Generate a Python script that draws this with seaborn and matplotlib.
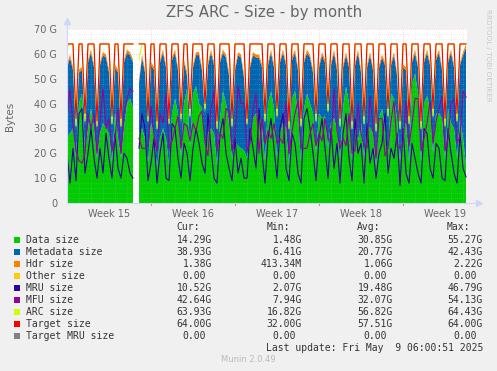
import numpy as np
import pandas as pd
import matplotlib
matplotlib.use('Agg')
import matplotlib.pyplot as plt
import seaborn as sns
from matplotlib.patches import Rectangle

nan = np.nan

# one sample every 6 hours, starting Monday of week 15 (values in GB)
days = np.arange(134) * 0.25

target_size = [
    64, 64, 64, 34,  64, 64, 36, 64,  64, 64, 33, 64,  64, 64, 64, 35,
    64, 64, 34, 64,  64, 64, 64, nan, 64, 64, 64, 35,  64, 64, 33, 64,
    64, 64, 34, 64,  64, 64, 36, 64,  64, 38, 64, 64,  64, 64, 40, 64,
    64, 64, 33, 64,  64, 64, 64, 34,  64, 64, 64, 64,  34, 64, 64, 64,
    64, 64, 36, 64,  64, 64, 38, 64,  64, 64, 33, 64,  64, 64, 34, 64,
    64, 64, 64, 36,  64, 64, 64, 40,  64, 64, 64, 34,  64, 64, 64, 33,
    64, 64, 64, 35,  64, 64, 64, 32,  64, 64, 64, 38,  64, 64, 64, 33,
    64, 64, 35, 64,  64, 64, 33, 64,  64, 64, 38, 64,  64, 64, 34, 64,
    64, 64, 36, 64,  64, 64,
]

arc_size = [
    62.5, 63.9, 63.9, 31,  63.8, 63.9, 33, 63.6,  63.9, 63.8, 31, 63.7,  63.9, 63.9, 63.8, 32,
    63.9, 63.7, 31, 63.9,  63.9, 63.9, 63.8, nan,  58, 63.9, 63.9, 33,  63.9, 63.8, 30, 63.9,
    63.9, 63.9, 32, 63.8,  64.1, 63.9, 34, 63.9,  63.9, 35, 63.9, 63.9,  63.8, 63.9, 38, 63.9,
    63.9, 63.9, 30, 63.9,  64.2, 63.9, 63.9, 31,  63.9, 63.8, 63.9, 63.9,  32, 63.9, 63.9, 63.9,
    63.9, 63.9, 33, 63.9,  63.9, 63.8, 35, 63.9,  63.9, 63.9, 30, 63.9,  63.9, 63.9, 31, 63.9,
    63.9, 63.9, 63.9, 33,  63.9, 63.9, 63.9, 37,  63.9, 64.1, 63.9, 31,  63.9, 63.9, 63.9, 30,
    63.9, 63.9, 63.9, 32,  63.9, 63.9, 63.9, 29,  63.9, 63.9, 63.9, 35,  63.9, 63.9, 63.9, 30,
    63.9, 63.9, 32, 63.9,  63.9, 63.9, 30, 63.9,  63.9, 63.9, 35, 63.9,  63.9, 63.9, 31, 63.9,
    63.9, 63.9, 33, 63.9,  63.9, 63.9,
]

data_size = [
    26, 28, 30, 18,  40, 44, 20, 30,  38, 30, 18, 28,  32, 30, 28, 16,
    36, 26, 18, 30,  40, 42, 38, nan, 28, 30, 26, 16,  32, 28, 14, 26,
    30, 26, 15, 36,  42, 36, 18, 40,  46, 22, 44, 47,  40, 38, 22, 28,
    30, 28, 15, 34,  45, 40, 32, 18,  24, 23, 22, 21,  18, 26, 34, 36,
    36, 30, 17, 40,  45, 38, 18, 28,  32, 30, 15, 42,  45, 36, 16, 38,
    44, 40, 36, 20,  36, 34, 35, 22,  32, 34, 30, 18,  38, 47, 40, 17,
    30, 25, 32, 18,  32, 30, 28, 15,  34, 38, 30, 20,  44, 42, 34, 17,
    30, 32, 16, 48,  52, 44, 16, 40,  43, 38, 20, 36,  36, 34, 17, 38,
    32, 30, 18, 34,  26, 15,
]

metadata_size = [
    28.5, 30.5, 23.5, 12,  12.5, 9.5, 12, 26.5,  22.5, 24.5, 12, 27.5,  27.5, 28.5, 24.5, 15,
    18.5, 26.5, 12, 26.5,  20.5, 17.5, 18.5, nan,  20.5, 28.5, 26.5, 16,  23.5, 25.5, 15, 30.5,
    30.5, 28.5, 16, 21.5,  18.5, 17.5, 14, 16.5,  5.5, 12, 10.5, 12.5,  19.5, 15.5, 14, 27.5,
    30.5, 27.5, 14, 22.5,  15.5, 18.5, 19.5, 12,  29.5, 36.5, 36.5, 29.5,  13, 28.5, 25.5, 22.5,
    22.5, 24.5, 15, 15.5,  15.5, 16.5, 16, 28.5,  28.5, 25.5, 14, 15.5,  15.5, 17.5, 14, 18.5,
    16.5, 18.5, 16.5, 12,  18.5, 25.5, 21.5, 14,  23.5, 26.5, 23.5, 12,  16.5, 12.5, 14.5, 12,
    25.5, 35.5, 20.5, 13,  22.5, 29.5, 25.5, 13,  20.5, 20.5, 25.5, 14,  11.5, 17.5, 17.5, 12,
    24.5, 21.5, 15, 8.5,  8.5, 10.5, 13, 16.5,  17.5, 17.5, 14, 21.5,  24.5, 19.5, 13, 18.5,
    28.5, 24.5, 14, 21.5,  33.5, 47.5,
]

hdr_size = [
    1.2, 1.2, 1.2, 0.7,  1.2, 1.2, 0.7, 1.2,  1.2, 1.2, 0.7, 1.2,  1.2, 1.2, 1.2, 0.7,
    1.2, 1.2, 0.7, 1.2,  1.2, 1.2, 1.2, nan,  1.0, 1.2, 1.2, 0.7,  1.2, 1.2, 0.7, 1.2,
    1.2, 1.2, 0.7, 1.2,  1.2, 1.2, 0.7, 1.2,  1.2, 0.7, 1.2, 1.2,  1.2, 1.2, 0.7, 1.2,
    1.2, 1.2, 0.7, 1.2,  1.2, 1.2, 1.2, 0.7,  1.2, 1.2, 1.2, 1.2,  0.7, 1.2, 1.2, 1.2,
    1.2, 1.2, 0.7, 1.2,  1.2, 1.2, 0.7, 1.2,  1.2, 1.2, 0.7, 1.2,  1.2, 1.2, 0.7, 1.2,
    1.2, 1.2, 1.2, 0.7,  1.2, 1.2, 1.2, 0.7,  1.2, 1.2, 1.2, 0.7,  1.2, 1.2, 1.2, 0.7,
    1.2, 1.2, 1.2, 0.7,  1.2, 1.2, 1.2, 0.7,  1.2, 1.2, 1.2, 0.7,  1.2, 1.2, 1.2, 0.7,
    1.2, 1.2, 0.7, 1.2,  1.2, 1.2, 0.7, 1.2,  1.2, 1.2, 0.7, 1.2,  1.2, 1.2, 0.7, 1.2,
    1.2, 1.2, 0.7, 1.2,  1.2, 1.4,
]

mru_size = [
    20, 8, 22, 9,  36, 38, 12, 20,  30, 18, 10, 22,  12, 28, 18, 10,
    28, 14, 10, 20,  18, 12, 10, nan,  22, 36, 30, 9,  16, 26, 8, 20,
    28, 10, 9, 32,  30, 18, 10, 24,  20, 9, 22, 30,  24, 16, 12, 36,
    22, 10, 8, 28,  34, 20, 14, 9,  26, 12, 18, 10,  10, 30, 22, 14,
    38, 20, 8, 26,  34, 22, 10, 30,  36, 14, 9, 28,  24, 12, 8, 34,
    38, 30, 20, 9,  26, 34, 22, 10,  30, 14, 24, 8,  28, 36, 18, 9,
    34, 20, 24, 8,  32, 16, 22, 10,  20, 24, 36, 12,  22, 18, 28, 7,
    30, 12, 8, 24,  18, 12, 8, 30,  28, 14, 10, 24,  22, 10, 9, 30,
    20, 12, 8, 28,  14, 10.5,
]

mfu_size = [
    34, 46, 31, 21,  17, 16, 20, 36,  30, 36, 20, 33,  46, 30, 34, 21,
    26, 38, 20, 36,  42, 46, 45, nan,  26, 22, 22, 23,  39, 27, 21, 36,
    32, 44, 22, 25,  30, 35, 22, 32,  31, 25, 32, 29,  35, 37, 24, 19,
    38, 45, 21, 28,  26, 38, 37, 21,  27, 47, 40, 40,  21, 24, 37, 44,
    20, 34, 24, 29,  26, 32, 24, 26,  24, 41, 20, 29,  36, 41, 22, 22,
    22, 28, 32, 23,  28, 25, 34, 26,  25, 46, 29, 22,  26, 23, 36, 20,
    21, 40, 28, 23,  22, 43, 31, 18,  34, 34, 19, 22,  33, 41, 23, 22,
    24, 41, 23, 32,  42, 42, 21, 26,  32, 41, 24, 33,  38, 43, 21, 26,
    40, 42, 24, 27,  45, 42.6,
]

legend_names = ['Data size', 'Metadata size', 'Hdr size', 'Other size', 'MRU size',
                'MFU size', 'ARC size', 'Target size', 'Target MRU size']
legend_colors = ['#00CC00', '#0066B3', '#FF8000', '#FFCC00', '#330099',
                 '#990099', '#CCFF00', '#FF0000', '#808080']
cur_vals = ['14.29G', '38.93G', '1.38G', '0.00 ', '10.52G', '42.64G', '63.93G', '64.00G', '0.00 ']
min_vals = ['1.48G', '6.41G', '413.34M', '0.00 ', '2.07G', '7.94G', '16.82G', '32.00G', '0.00 ']
avg_vals = ['30.85G', '20.77G', '1.06G', '0.00 ', '19.48G', '32.07G', '56.82G', '57.51G', '0.00 ']
max_vals = ['55.27G', '42.43G', '2.22G', '0.00 ', '46.79G', '54.13G', '64.43G', '64.00G', '0.00 ']

week_pos = [3.5, 10.5, 17.5, 24.5, 31.5]
week_labels = ['Week 15', 'Week 16', 'Week 17', 'Week 18', 'Week 19']
y_ticks = [0, 10, 20, 30, 40, 50, 60, 70]
y_labels = ['0', '10 G', '20 G', '30 G', '40 G', '50 G', '60 G', '70 G']

W, H = 497, 371
FONT_C = '#666666'
AXIS_C = '#CFD6F8'

df = pd.DataFrame({'day': days, 'data': data_size, 'meta': metadata_size, 'hdr': hdr_size,
                   'mru': mru_size, 'mfu': mfu_size, 'arc': arc_size, 'target': target_size})
df['seg'] = (df['day'] > 5.6).astype(int)

fig = plt.figure(figsize=(W / 100, H / 100), dpi=100, facecolor='#F0F0F0')
ax = fig.add_axes([67 / W, 1 - 203 / H, 400 / W, 174 / H])
ax.set_facecolor('white')

ax.stackplot(df['day'], df['data'], df['meta'], df['hdr'],
             colors=legend_colors[:3], linewidth=0, zorder=1)

# rrdtool style dotted grid, drawn over the areas
for g in range(2, 71, 2):
    major = g % 10 == 0
    ax.axhline(g, color='#FF7070' if major else '#C0C0C0', alpha=0.55 if major else 0.45,
               ls=(0, (1, 2)), lw=0.5, zorder=1.5)
for d in range(1, 34):
    major = d % 7 == 0
    ax.axvline(d, color='#FF7070' if major else '#C0C0C0', alpha=0.55 if major else 0.45,
               ls=(0, (1, 2)), lw=0.5, zorder=1.5)

for col, c in [('mru', '#330099'), ('mfu', '#990099'), ('arc', '#CCFF00'), ('target', '#FF0000')]:
    sns.lineplot(data=df, x='day', y=col, units='seg', estimator=None, sort=False,
                 color=c, linewidth=0.8, ax=ax, legend=False, zorder=2)

ax.set_xlim(0, 33.33)
ax.set_ylim(0, 70)
for s in ax.spines.values():
    s.set_visible(False)
ax.plot([0, 0], [0, 72.5], color=AXIS_C, lw=0.8, clip_on=False, zorder=3)
ax.plot([0, 34.0], [0, 0], color=AXIS_C, lw=0.8, clip_on=False, zorder=3)
ax.plot([0], [73.2], marker='^', color=AXIS_C, markersize=4, clip_on=False)
ax.plot([34.3], [0], marker='>', color=AXIS_C, markersize=4, clip_on=False)
for d in [7, 14, 21, 28]:
    ax.plot([d, d], [0, -0.9], color='#F08080', lw=0.8, clip_on=False)

ax.set_xticks(week_pos, week_labels)
ax.set_yticks(y_ticks, y_labels)
ax.tick_params(length=0, labelsize=7, labelcolor=FONT_C)
ax.tick_params(axis='x', pad=4)
ax.tick_params(axis='y', pad=7)
ax.set_xlabel('')
ax.set_ylabel('')

def ftext(x, y, s, **kw):
    fig.text(x / W, 1 - y / H, s, **kw)

ftext(264.5, 13, 'ZFS ARC - Size - by month', ha='center', va='center', fontsize=10.8, color=FONT_C)
ftext(10, 116, 'Bytes', ha='center', va='center', rotation=90, fontsize=7.5, color=FONT_C)
ftext(488, 55, 'RRDTOOL / TOBI OETIKER', ha='center', va='center', rotation=270,
      fontsize=5.2, color='#C8C8C8')

mono = dict(family='DejaVu Sans Mono', fontsize=7, color='#333333', va='center')
for x, s in zip([176, 267, 357, 447], ['Cur:', 'Min:', 'Avg:', 'Max:']):
    ftext(x, 227.3, s, ha='left', **mono)

cw = 5.85
for i, name in enumerate(legend_names):
    y = 239.7 + 12 * i
    fig.add_artist(Rectangle((14 / W, 1 - (y + 3) / H), 6 / W, 6 / H,
                             transform=fig.transFigure, facecolor=legend_colors[i],
                             edgecolor='none'))
    ftext(26, y, name, ha='left', **mono)
    for right, vals in zip([212, 302, 393, 483], [cur_vals, min_vals, avg_vals, max_vals]):
        v = vals[i]
        shift = (len(v) - len(v.rstrip())) * cw
        ftext(right - shift, y, v.rstrip(), ha='right', **mono)

ftext(483, 347.7, 'Last update: Fri May  9 06:00:51 2025', ha='right', **mono)
ftext(248.7, 359.7, 'Munin 2.0.49', ha='center', va='center', fontsize=6, color='#BBBBBB')

fig.savefig('out.png', dpi=100, facecolor=fig.get_facecolor())
plt.close(fig)
